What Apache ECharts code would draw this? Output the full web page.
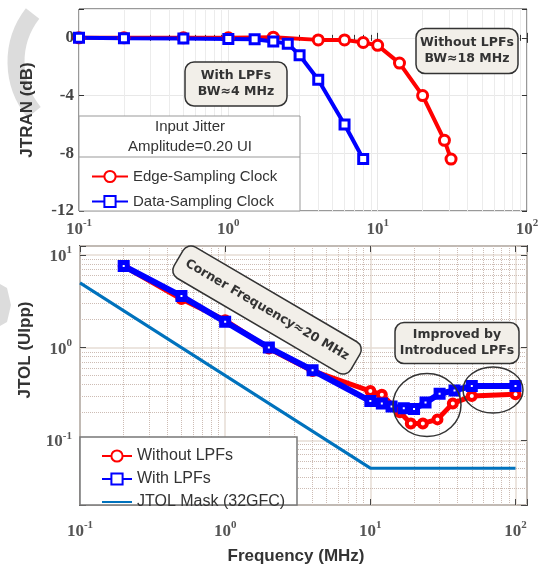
<!DOCTYPE html>
<html>
<head>
<meta charset="utf-8">
<script src="https://cdn.jsdelivr.net/npm/echarts@6/dist/echarts.min.js"></script>
<style>
html, body { margin: 0; padding: 0; background: #fff; }
#chart { width: 543px; height: 569px; }
</style>
</head>
<body>
<div id="chart"></div>
<script>
// JTRAN (top panel)
const jtranEdgeFreq = [0.1, 0.2, 0.5, 1, 2, 4, 6, 8, 10, 14, 20, 28, 31];
const jtranEdge = [0, 0, 0, 0, 0.05, -0.14, -0.14, -0.32, -0.52, -1.75, -4.0, -7.1, -8.4];
const jtranDataFreq = [0.1, 0.2, 0.5, 1, 1.5, 2, 2.5, 3, 4, 6, 8];
const jtranData = [0, -0.03, -0.05, -0.08, -0.1, -0.25, -0.4, -1.2, -2.9, -6.0, -8.4];
const jtranTicks = [0, -4, -8, -12];

// JTOL (bottom panel)
const jtolWithoutFreq = [0.2, 0.5, 1, 2, 4, 10, 12, 16, 19, 23, 29, 37, 50, 100];
const jtolWithout = [7.6, 3.35, 1.97, 0.98, 0.56, 0.34, 0.31, 0.2, 0.152, 0.152, 0.168, 0.25, 0.3, 0.313];
const jtolWithFreq = [0.2, 0.5, 1, 2, 4, 10, 12, 14, 17, 20, 24, 30, 38, 50, 100];
const jtolWith = [7.6, 3.6, 1.9, 1.0, 0.57, 0.265, 0.25, 0.232, 0.222, 0.218, 0.255, 0.318, 0.345, 0.385, 0.385];
const maskFreq = [0.1, 10, 100];
const mask = [5, 0.05, 0.05];

function pairs(xs, ys) {
  return xs.map(function (x, i) { return [x, ys[i]]; });
}

// minor log grid positions (2..9 in each decade)
function minorLogs(decades) {
  const out = [];
  decades.forEach(function (d) {
    for (let k = 2; k <= 9; k++) out.push(+(k * d).toPrecision(3));
  });
  return out;
}
const minorX = minorLogs([0.1, 1, 10]);
const minorY = minorLogs([0.01, 0.1, 1]).filter(function (v) { return v > 0.02; });

function powLabel(v) {
  const e = Math.log10(v);
  const r = Math.round(e);
  if (Math.abs(e - r) > 1e-6) return '';
  return '{b|10}{s|' + r + '}';
}

const tickRich = {
  b: { fontFamily: 'Liberation Serif', fontWeight: 'bold', fontSize: 17, color: '#555', verticalAlign: 'bottom', lineHeight: 20 },
  s: { fontFamily: 'Liberation Serif', fontWeight: 'bold', fontSize: 11, color: '#555', verticalAlign: 'top', lineHeight: 20 }
};

const gridTop = { left: 79, top: 9, width: 448, height: 202 };
const gridBot = { left: 80, top: 246, width: 447, height: 259 };

function logX(gridIndex, max, opts) {
  return Object.assign({
    type: 'log',
    logBase: 10,
    gridIndex: gridIndex,
    min: 0.1,
    max: max,
    axisLine: { show: false },
    axisTick: { show: true, inside: true, length: 5, lineStyle: { color: '#333' } }
  }, opts);
}

const boxStyle = { fill: '#f2efe9', stroke: '#333', lineWidth: 1.5 };
const noteFont = { fontFamily: 'DejaVu Sans', fontWeight: 'bold', fontSize: 12.5, fill: '#333', stroke: null, lineWidth: 0, lineHeight: 16, align: 'center', verticalAlign: 'middle' };

function noteBox(cx, cy, w, h, text, rot) {
  return {
    type: 'group',
    x: cx, y: cy,
    rotation: rot || 0,
    z: 10,
    children: [
      { type: 'rect', z: 10, shape: { x: -w / 2, y: -h / 2, width: w, height: h, r: 9 }, style: boxStyle },
      { type: 'text', z: 11, style: Object.assign({ text: text, x: 0, y: 0 }, noteFont) }
    ]
  };
}

const minorLine = { color: '#cdbcb4', type: 'dotted', width: 1 };
const markGray = '#dcdcdc';

const chart = echarts.init(document.getElementById('chart'));

const option = {
  animation: false,
  backgroundColor: '#fff',
  grid: [
    Object.assign({ show: true, borderColor: '#333', borderWidth: 1 }, gridTop),
    Object.assign({ show: true, borderColor: '#555', borderWidth: 2 }, gridBot)
  ],
  xAxis: [
    logX(0, 100, {
      minorTick: { show: true, inside: true, splitNumber: 9, length: 3, lineStyle: { color: '#333' } },
      splitLine: { show: true, lineStyle: { color: '#e8e8e8' } },
      minorSplitLine: { show: true, lineStyle: { color: '#ececec' } },
      axisLabel: { formatter: powLabel, rich: tickRich, margin: 7 }
    }),
    logX(0, 100, {
      position: 'top', axisLabel: { show: false }, splitLine: { show: false },
      minorTick: { show: true, inside: true, splitNumber: 9, length: 3, lineStyle: { color: '#333' } }
    }),
    logX(1, 120, {
      axisTick: { show: true, inside: true, length: 6, lineStyle: { color: '#444' } },
      splitLine: { show: true, lineStyle: { color: '#e6ddd5', width: 1.5 } },
      axisLabel: { formatter: powLabel, rich: tickRich, margin: 15 }
    }),
    logX(1, 120, {
      position: 'top', axisLabel: { show: false }, splitLine: { show: false },
      axisTick: { show: true, inside: true, length: 6, lineStyle: { color: '#444' } }
    })
  ],
  yAxis: [
    {
      type: 'value', gridIndex: 0, min: -12, max: 2, interval: 4,
      axisLine: { show: false },
      axisTick: { show: true, inside: true, length: 5, lineStyle: { color: '#333' } },
      splitLine: { show: true, lineStyle: { color: '#e8e8e8' } },
      axisLabel: {
        margin: 5,
        fontFamily: 'Liberation Serif', fontWeight: 'bold', fontSize: 17, color: '#444',
        formatter: function (v) { return jtranTicks.indexOf(v) >= 0 ? String(v) : ''; }
      }
    },
    {
      type: 'value', gridIndex: 0, min: -12, max: 2, interval: 4, position: 'right',
      axisLine: { show: false }, splitLine: { show: false }, axisLabel: { show: false },
      axisTick: { show: true, inside: true, length: 5, lineStyle: { color: '#333' } }
    },
    {
      type: 'log', logBase: 10, gridIndex: 1, min: 0.02, max: 12.5,
      axisLine: { show: false },
      axisTick: { show: true, inside: true, length: 6, lineStyle: { color: '#444' } },
      splitLine: { show: true, lineStyle: { color: '#e6ddd5', width: 1.5 } },
      axisLabel: { formatter: powLabel, rich: tickRich, margin: 8 }
    },
    {
      type: 'log', logBase: 10, gridIndex: 1, min: 0.02, max: 12.5, position: 'right',
      axisLine: { show: false }, splitLine: { show: false }, axisLabel: { show: false },
      axisTick: { show: true, inside: true, length: 6, lineStyle: { color: '#444' } }
    }
  ],
  legend: [
    {
      data: ['Edge-Sampling Clock', 'Data-Sampling Clock'],
      orient: 'vertical', left: 86, top: 164,
      itemWidth: 36, itemHeight: 14, itemGap: 10,
      textStyle: { fontFamily: 'Liberation Sans', fontSize: 15, color: '#333' },
      z: 12
    },
    {
      data: ['Without LPFs', 'With LPFs', { name: 'JTOL Mask (32GFC)', itemStyle: { opacity: 0 } }],
      orient: 'vertical', left: 96, top: 443,
      itemWidth: 30, itemHeight: 14, itemGap: 7,
      textStyle: { fontFamily: 'Liberation Sans', fontSize: 16, color: '#333' },
      z: 12
    }
  ],
  series: [
    {
      name: 'minor grid', type: 'line', xAxisIndex: 2, yAxisIndex: 2, z: 1,
      data: [], symbol: 'none',
      markLine: {
        z: 1,
        silent: true, symbol: ['none', 'none'], label: { show: false },
        lineStyle: minorLine, emphasis: { disabled: true },
        data: minorX.map(function (v) { return { xAxis: v }; })
          .concat(minorY.map(function (v) { return { yAxis: v }; }))
      }
    },
    {
      name: 'Edge-Sampling Clock', type: 'line', xAxisIndex: 0, yAxisIndex: 0,
      data: pairs(jtranEdgeFreq, jtranEdge),
      symbol: 'circle', symbolSize: 10,
      lineStyle: { color: '#ff0000', width: 4 },
      itemStyle: { color: '#fff', borderColor: '#ff0000', borderWidth: 3 }
    },
    {
      name: 'Data-Sampling Clock', type: 'line', xAxisIndex: 0, yAxisIndex: 0,
      data: pairs(jtranDataFreq, jtranData),
      symbol: 'rect', symbolSize: 9,
      lineStyle: { color: '#0000ff', width: 4 },
      itemStyle: { color: '#fff', borderColor: '#0000ff', borderWidth: 3 }
    },
    {
      name: 'JTOL Mask (32GFC)', type: 'line', xAxisIndex: 2, yAxisIndex: 2,
      data: pairs(maskFreq, mask),
      symbol: 'none',
      lineStyle: { color: '#0072bd', width: 3 },
      itemStyle: { color: '#0072bd' }
    },
    {
      name: 'Without LPFs', type: 'line', xAxisIndex: 2, yAxisIndex: 2,
      data: pairs(jtolWithoutFreq, jtolWithout),
      symbol: 'circle', symbolSize: 8,
      lineStyle: { color: '#ff0000', width: 5 },
      itemStyle: { color: '#fff', borderColor: '#ff0000', borderWidth: 4 }
    },
    {
      name: 'With LPFs', type: 'line', xAxisIndex: 2, yAxisIndex: 2,
      data: pairs(jtolWithFreq, jtolWith),
      symbol: 'rect', symbolSize: 7,
      lineStyle: { color: '#0000ff', width: 6 },
      itemStyle: { color: '#fff', borderColor: '#0000ff', borderWidth: 5 }
    }
  ],
  graphic: [
    // faint watermark pieces at the left edge
    { type: 'arc', z: -1, shape: { cx: 95, cy: 62, r: 79, startAngle: Math.PI * 0.78, endAngle: Math.PI * 1.21 },
      style: { stroke: markGray, lineWidth: 17, fill: null } },
    { type: 'polygon', z: -1, shape: { points: [[0, 284], [7, 288], [11, 305], [7, 322], [0, 326]] },
      style: { fill: markGray } },
    // axis titles
    { type: 'text', x: 27, y: 110, rotation: Math.PI / 2, z: 10,
      style: { text: 'JTRAN (dB)', fontFamily: 'Liberation Sans', fontWeight: 'bold', fontSize: 17, fill: '#333', align: 'center', verticalAlign: 'middle' } },
    { type: 'text', x: 25, y: 350, rotation: Math.PI / 2, z: 10,
      style: { text: 'JTOL (UIpp)', fontFamily: 'Liberation Sans', fontWeight: 'bold', fontSize: 17, fill: '#333', align: 'center', verticalAlign: 'middle' } },
    { type: 'text', x: 296, y: 556, z: 10,
      style: { text: 'Frequency (MHz)', fontFamily: 'Liberation Sans', fontWeight: 'bold', fontSize: 17, fill: '#333', align: 'center', verticalAlign: 'middle' } },
    // top legend box
    { type: 'rect', z: 11, shape: { x: 79, y: 116, width: 221, height: 95 }, style: { fill: '#fff', stroke: '#999', lineWidth: 1 } },
    { type: 'line', z: 11, shape: { x1: 79, y1: 157, x2: 300, y2: 157 }, style: { stroke: '#999', lineWidth: 1 } },
    { type: 'text', z: 11, x: 190, y: 127, style: { text: 'Input Jitter', fontFamily: 'Liberation Sans', fontSize: 15, fill: '#333', align: 'center', verticalAlign: 'middle' } },
    { type: 'text', z: 11, x: 190, y: 147, style: { text: 'Amplitude=0.20 UI', fontFamily: 'Liberation Sans', fontSize: 15, fill: '#333', align: 'center', verticalAlign: 'middle' } },
    // bottom legend box
    { type: 'rect', z: 11, shape: { x: 80, y: 437, width: 217, height: 68 }, style: { fill: '#fff', stroke: '#777', lineWidth: 1.5 } },
    // notes
    noteBox(236, 84, 102, 44, 'With LPFs\nBW≈4 MHz'),
    noteBox(467, 51, 102, 45, 'Without LPFs\nBW≈18 MHz'),
    noteBox(457, 343, 124, 41, 'Improved by\nIntroduced LPFs'),
    noteBox(267, 310, 205, 36, 'Corner Frequency≈20 MHz', -0.53),
    { type: 'ellipse', z: 10, shape: { cx: 427, cy: 405, rx: 34, ry: 31.5 }, style: { fill: null, stroke: '#333', lineWidth: 1.5 } },
    { type: 'ellipse', z: 10, shape: { cx: 493, cy: 390, rx: 30, ry: 23 }, style: { fill: null, stroke: '#333', lineWidth: 1.5 } }
  ]
};

chart.setOption(option);
</script>
</body>
</html>
